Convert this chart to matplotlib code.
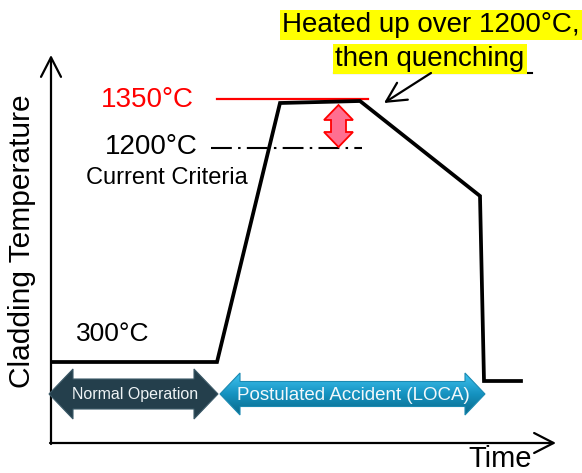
import numpy as np
import matplotlib.pyplot as plt
import matplotlib.patches as mpatches
from matplotlib.colors import LinearSegmentedColormap

plt.rcParams['font.family'] = ['Liberation Sans', 'DejaVu Sans']

# schematic cladding temperature history (x = time, y = temperature level, arbitrary units)
time_pts = [1, 166, 229, 309, 429, 433, 470]
temp_pts = [81, 81, 340, 342, 247, 62, 62]

# reference levels
level_1350 = 344
span_1350 = [166, 317]
level_1200 = 295
span_1200 = [160, 311]

# phases along the time axis
phase_names = ["Normal Operation", "Postulated Accident (LOCA)"]
phase_start = [-2, 169]
phase_end = [167, 434]


def double_arrow(x0, x1, yc, shaft, head, hlen, vertical=False):
    pts = [(x0, yc), (x0 + hlen, yc + head), (x0 + hlen, yc + shaft),
           (x1 - hlen, yc + shaft), (x1 - hlen, yc + head), (x1, yc),
           (x1 - hlen, yc - head), (x1 - hlen, yc - shaft),
           (x0 + hlen, yc - shaft), (x0 + hlen, yc - head)]
    if vertical:
        pts = [(b, a) for a, b in pts]
    return np.array(pts)


fig = plt.figure(figsize=(5.82, 4.73), dpi=100)
ax = fig.add_axes([0, 0, 1, 1])
ax.set_xlim(-51, 531)
ax.set_ylim(-30, 443)
ax.axis('off')

# axes with open arrowheads
arr = dict(arrowstyle='->,head_length=0.7,head_width=0.36', color='black',
           lw=1.6, mutation_scale=20, shrinkA=0, shrinkB=0)
ax.annotate('', xy=(0, 388), xytext=(0, -1), arrowprops=arr)
ax.annotate('', xy=(505, 0), xytext=(-1, 0), arrowprops=arr)
ax.text(-29, 202, "Cladding Temperature", rotation=90, fontsize=21.5,
        ha='center', va='center')
ax.text(449, -16, "Time", fontsize=21, ha='center', va='center')

# temperature profile
ax.plot(time_pts, temp_pts, color='black', lw=2.7, solid_joinstyle='miter', zorder=3)

# limits
ax.plot(span_1350, [level_1350] * 2, color='#ff0000', lw=1.6, zorder=2)
ax.plot(span_1200, [level_1200] * 2, color='black', lw=1.5,
        dashes=(10, 3, 1.2, 3), zorder=2)
ax.text(96, 343, "1350\u00b0C", color='#ff0000', fontsize=20,
        ha='center', va='center')
ax.text(100, 296, "1200\u00b0C", color='black', fontsize=20,
        ha='center', va='center')
ax.text(116, 265, "Current Criteria", fontsize=17, ha='center', va='center')
ax.text(62, 109, "300\u00b0C", fontsize=19, ha='center', va='center')

# red margin arrow
red = double_arrow(296, 338, 287.5, 7.5, 14.5, 15, vertical=True)
ax.add_patch(mpatches.Polygon(red, closed=True, facecolor='#ff6f90',
                              edgecolor='#ff0000', lw=1.3, zorder=4))

# callout
ax.text(380, 418, "Heated up over 1200\u00b0C,", fontsize=20,
        ha='center', va='center',
        bbox=dict(boxstyle='square,pad=0.08', fc='#ffff00', ec='none'))
ax.text(379, 384, "then quenching", fontsize=20, ha='center', va='center',
        bbox=dict(boxstyle='square,pad=0.08', fc='#ffff00', ec='none'))
ax.plot([283, 481], [370, 370], color='black', lw=1.5)
ax.annotate('', xy=(333, 340), xytext=(380, 370),
            arrowprops=dict(arrowstyle='->,head_length=0.7,head_width=0.36',
                            color='black', lw=1.6, mutation_scale=20,
                            shrinkA=0, shrinkB=0))

# phase arrows
normal = double_arrow(phase_start[0], phase_end[0], 49, 15, 25, 24)
ax.add_patch(mpatches.Polygon(normal, closed=True, facecolor='#243f4c',
                              edgecolor='#3c5a68', lw=0.8, zorder=5))
ax.text((phase_start[0] + phase_end[0]) / 2 + 2, 49, phase_names[0],
        color='#eef3f5', fontsize=11.5, ha='center', va='center', zorder=6)

acc = double_arrow(phase_start[1], phase_end[1], 49, 12.5, 21, 20)
acc_patch = mpatches.Polygon(acc, closed=True, facecolor='none',
                             edgecolor='#1b8ab2', lw=0.8, zorder=5)
ax.add_patch(acc_patch)
cmap = LinearSegmentedColormap.from_list('blu', ['#3fc3f0', '#1592c0', '#0a6a8a'])
grad = np.linspace(0, 1, 100).reshape(-1, 1)
im = ax.imshow(grad, cmap=cmap, aspect='auto', zorder=4.9,
               extent=[phase_start[1], phase_end[1], 49 - 21, 49 + 21],
               origin='upper')
im.set_clip_path(acc_patch)
ax.text((phase_start[1] + phase_end[1]) / 2 + 1, 48, phase_names[1],
        color='#f2f8fb', fontsize=13.5, ha='center', va='center', zorder=6)

ax.set_xlim(-51, 531)
ax.set_ylim(-30, 443)
fig.savefig('out.png', dpi=100)
